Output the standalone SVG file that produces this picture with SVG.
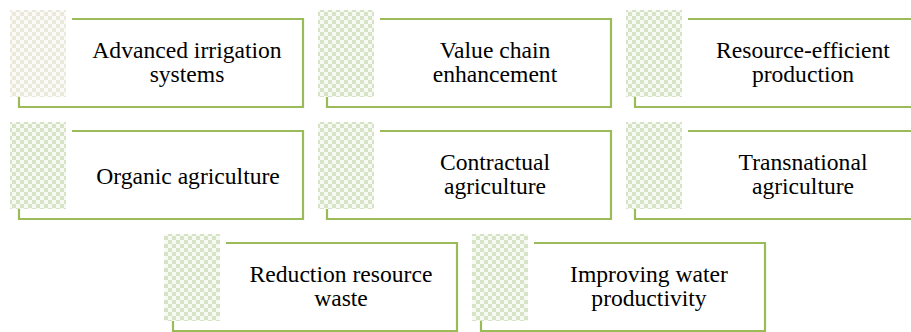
<svg xmlns="http://www.w3.org/2000/svg" width="911" height="332" viewBox="0 0 911 332">
<defs>
<pattern id="chkB" width="8" height="8" patternUnits="userSpaceOnUse">
<rect width="8" height="8" fill="#fbfaf6"/>
<rect width="4" height="4" fill="#ebe9dc"/>
<rect x="4" y="4" width="4" height="4" fill="#ebe9dc"/>
</pattern>
<pattern id="chkG" width="8" height="8" patternUnits="userSpaceOnUse">
<rect width="8" height="8" fill="#f7faf3"/>
<rect width="4" height="4" fill="#d6e3c6"/>
<rect x="4" y="4" width="4" height="4" fill="#d6e3c6"/>
</pattern>
</defs>
<rect width="911" height="332" fill="#fff"/>
<g id="node1">
<rect x="10" y="10" width="56" height="87" fill="url(#chkB)"/>
<path d="M72 19 H303 V107 H19 V97" fill="none" stroke="#9bbb59" stroke-width="2.2"/>
<text x="187" y="58" font-family="Liberation Serif" font-size="23.6" text-anchor="middle">Advanced irrigation</text>
<text x="187" y="82" font-family="Liberation Serif" font-size="23.6" text-anchor="middle">systems</text>
</g>
<g id="node2">
<rect x="318" y="10" width="56" height="87" fill="url(#chkG)"/>
<path d="M380 19 H611 V107 H327 V97" fill="none" stroke="#9bbb59" stroke-width="2.2"/>
<text x="495" y="58" font-family="Liberation Serif" font-size="23.6" text-anchor="middle">Value chain</text>
<text x="495" y="82" font-family="Liberation Serif" font-size="23.6" text-anchor="middle">enhancement</text>
</g>
<g id="node3">
<rect x="626" y="10" width="56" height="87" fill="url(#chkG)"/>
<path d="M688 19 H919 V107 H635 V97" fill="none" stroke="#9bbb59" stroke-width="2.2"/>
<text x="803" y="58" font-family="Liberation Serif" font-size="23.6" text-anchor="middle">Resource-efficient</text>
<text x="803" y="82" font-family="Liberation Serif" font-size="23.6" text-anchor="middle">production</text>
</g>
<g id="node4">
<rect x="10" y="122" width="56" height="87" fill="url(#chkG)"/>
<path d="M72 131 H303 V219 H19 V209" fill="none" stroke="#9bbb59" stroke-width="2.2"/>
<text x="188" y="184" font-family="Liberation Serif" font-size="23.6" text-anchor="middle">Organic agriculture</text>
</g>
<g id="node5">
<rect x="318" y="122" width="56" height="87" fill="url(#chkG)"/>
<path d="M380 131 H611 V219 H327 V209" fill="none" stroke="#9bbb59" stroke-width="2.2"/>
<text x="495" y="170" font-family="Liberation Serif" font-size="23.6" text-anchor="middle">Contractual</text>
<text x="495" y="194" font-family="Liberation Serif" font-size="23.6" text-anchor="middle">agriculture</text>
</g>
<g id="node6">
<rect x="626" y="122" width="56" height="87" fill="url(#chkG)"/>
<path d="M688 131 H919 V219 H635 V209" fill="none" stroke="#9bbb59" stroke-width="2.2"/>
<text x="803" y="170" font-family="Liberation Serif" font-size="23.6" text-anchor="middle">Transnational</text>
<text x="803" y="194" font-family="Liberation Serif" font-size="23.6" text-anchor="middle">agriculture</text>
</g>
<g id="node7">
<rect x="164" y="234" width="56" height="87" fill="url(#chkG)"/>
<path d="M226 243 H457 V331 H173 V321" fill="none" stroke="#9bbb59" stroke-width="2.2"/>
<text x="341" y="282" font-family="Liberation Serif" font-size="23.6" text-anchor="middle">Reduction resource</text>
<text x="341" y="306" font-family="Liberation Serif" font-size="23.6" text-anchor="middle">waste</text>
</g>
<g id="node8">
<rect x="472" y="234" width="56" height="87" fill="url(#chkG)"/>
<path d="M534 243 H765 V331 H481 V321" fill="none" stroke="#9bbb59" stroke-width="2.2"/>
<text x="649" y="282" font-family="Liberation Serif" font-size="23.6" text-anchor="middle">Improving water</text>
<text x="649" y="306" font-family="Liberation Serif" font-size="23.6" text-anchor="middle">productivity</text>
</g>
<g id="connectors"/>
</svg>
